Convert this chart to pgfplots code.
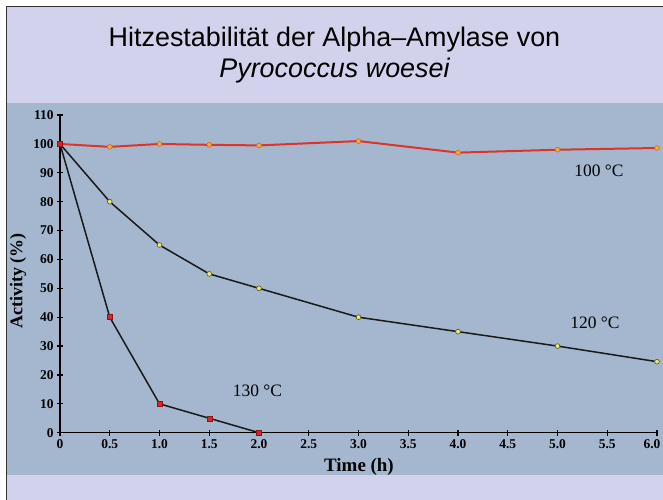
\documentclass[border=0pt]{standalone}
\usepackage{fontspec}
\setmainfont{Liberation Serif}
\newfontfamily\arial{Liberation Sans}
\usepackage{pgfplots}
\pgfplotsset{compat=1.18}
\definecolor{lav}{RGB}{210,210,236}
\definecolor{panel}{RGB}{164,183,207}
\definecolor{redline}{RGB}{222,52,40}
\definecolor{orfill}{RGB}{245,172,60}
\definecolor{ordraw}{RGB}{215,100,40}
\definecolor{yefill}{RGB}{236,232,112}
\definecolor{yedraw}{RGB}{85,85,30}
\definecolor{rqfill}{RGB}{215,40,40}
\definecolor{rqdraw}{RGB}{140,20,20}
\begin{document}
\begin{tikzpicture}[x=1bp,y=1bp]
\path[use as bounding box, fill=white] (0,0) rectangle (663,500);
\fill[lav] (6,0) rectangle (663,494);
\fill[panel] (7,25) rectangle (663,397);
\draw[line width=1.6bp, black!80] (6.5,0) -- (6.5,493.5) -- (663,493.5);
\node[font=\arial\fontsize{27}{31}\selectfont, anchor=base] at (334.5,453.3) {Hitzestabilität der Alpha–Amylase von};
\node[font=\arial\itshape\fontsize{27}{31}\selectfont, anchor=base] at (334.5,422) {Pyrococcus woesei};
\begin{axis}[
  at={(60bp,67.3bp)}, anchor=origin,
  scale only axis, width=597bp, height=317.6bp,
  xmin=0, xmax=6, ymin=0, ymax=110,
  axis x line=bottom, axis y line=left,
  axis line style={-, line width=1.6bp, black},
  tick align=center, major tick length=6bp,
  tick style={line width=1.2bp, black},
  xtick={0,0.5,1,1.5,2,2.5,3,3.5,4,4.5,5,5.5,6},
  xticklabels={0,0.5,1.0,1.5,2.0,2.5,3.0,3.5,4.0,4.5,5.0,5.5,{\kern-10bp 6.0}},
  ytick={0,10,...,110},
  /pgf/number format/assume math mode=true,
  tick label style={font=\bfseries\fontsize{13.5}{15}\selectfont},
  xlabel={Time (h)},
  ylabel={Activity (\%)},
  xlabel style={at={(axis description cs:0.5008,0)}, anchor=base, yshift=-39.3bp, font=\bfseries\fontsize{19}{22}\selectfont},
  ylabel style={at={(axis description cs:-0.0704,0.478)}, anchor=center, font=\bfseries\fontsize{18}{22}\selectfont},
  clip=false,
]
\addplot[redline, line width=2bp, mark=*, mark size=2.4bp, mark options={fill=orfill, draw=ordraw, line width=0.6bp}]
  coordinates {(0,100) (0.5,99) (1,100) (1.5,99.7) (2,99.5) (3,101) (4,97) (5,98) (6,98.6)};
\addplot[black!90, line width=1.5bp, mark=*, mark size=2.4bp, mark options={fill=yefill, draw=yedraw, line width=0.6bp}]
  coordinates {(0,100) (0.5,80) (1,65) (1.5,55) (2,50) (3,40) (4,35) (5,30) (6,24.6)};
\addplot[black!90, line width=1.5bp, mark=square*, mark size=2.5bp, mark options={fill=rqfill, draw=rqdraw, line width=0.5bp}]
  coordinates {(0,100) (0.5,40) (1,10) (1.5,5) (2,0)};
\node[font=\fontsize{17.5}{20}\selectfont] at (axis cs:5.417,90.6) {100 °C};
\node[font=\fontsize{17.5}{20}\selectfont] at (axis cs:5.377,38.0) {120 °C};
\node[font=\fontsize{17.5}{20}\selectfont] at (axis cs:1.985,14.5) {130 °C};
\end{axis}
\end{tikzpicture}
\end{document}
